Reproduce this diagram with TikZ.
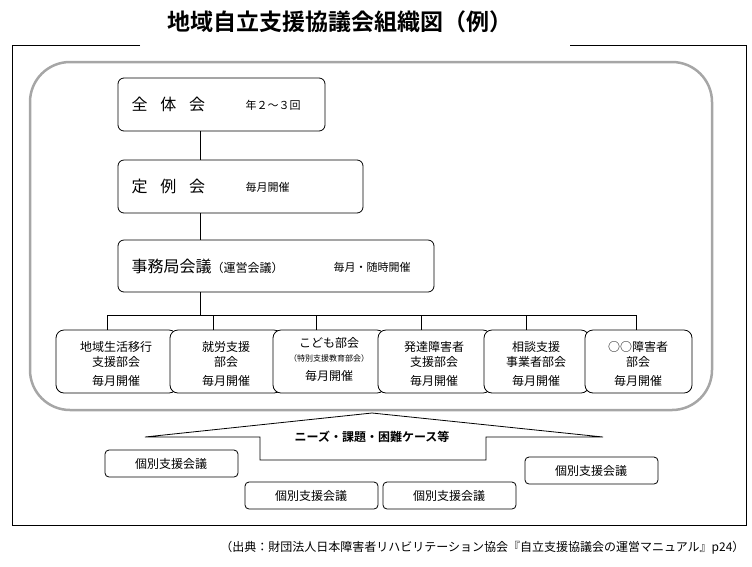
\documentclass[tikz,border=0pt]{standalone}
\usepackage{fontspec}
\setmainfont{Noto Sans CJK JP}
\newfontfamily\jpbold{Noto Sans CJK JP Bold}
\begin{document}
\begin{tikzpicture}[x=1pt,y=-1pt,
  bx/.style={draw,rounded corners=6pt,line width=0.8pt},
  sub/.style={draw,rounded corners=8pt,line width=0.8pt,fill=white},
  lbl/.style={font=\fontsize{12}{15}\selectfont},
  big/.style={font=\fontsize{16}{18}\selectfont,anchor=west},
  note/.style={font=\fontsize{11}{13}\selectfont,anchor=west}]
\useasboundingbox (0,0) rectangle (752,566);
\node (title) at (340,22) {\jpbold\fontsize{23}{26}\selectfont 地域自立支援協議会組織図（例）};
\draw[line width=0.8pt] (140,45) -- (12,45) -- (12,525) -- (746,525) -- (746,45) -- (570,45);
\draw[gray!70,line width=2.5pt,rounded corners=40pt] (30,62) rectangle (712,410);
% main boxes
\draw[bx] (118,78) rectangle (325,131);
\node[big] (a) at (128,104) {全\hspace{0.8em}体\hspace{0.8em}会};
\node[note] at (242,105) {年２～３回};
\draw[bx] (118,160) rectangle (363,213);
\node[big] (b) at (128,186) {定\hspace{0.8em}例\hspace{0.8em}会};
\node[note] at (242,187) {毎月開催};
\draw[bx] (118,240) rectangle (434,292);
\node[big] (c) at (128,266) {事務局会議\fontsize{12}{14}\selectfont（運営会議）};
\node[note] at (330,267) {毎月・随時開催};
\coordinate (t1) at (200,131); \coordinate (t2) at (200,160);
\coordinate (t3) at (200,213); \coordinate (t4) at (200,240);
\coordinate (t5) at (200,292); \coordinate (t6) at (200,315);
\draw (t1) -- (t2); \draw (t3) -- (t4); \draw (t5) -- (t6);
\coordinate (hl) at (107,315); \coordinate (hr) at (636,315);
\draw (hl) -- (hr);
\foreach \x in {107,213,316,421,526,636} \draw (\x,315) -- (\x,332);
% sub boxes
\foreach \l/\r/\n in {56/177/s1,170/282/s2,273/385/s3,378/491/s4,484/589/s5,585/692/s6}
  \draw[sub] (\l,330) rectangle (\r,393);
\node[lbl,align=center] at (116,354) {地域生活移行\\支援部会};
\node[lbl] at (116,381) {毎月開催};
\node[lbl,align=center] at (226,354) {就労支援\\部会};
\node[lbl] at (226,381) {毎月開催};
\node[lbl] at (329,343) {こども部会};
\node[font=\fontsize{8}{9}\selectfont] at (329,358) {（特別支援教育部会）};
\node[lbl] at (329,376) {毎月開催};
\node[lbl,align=center] at (434,354) {発達障害者\\支援部会};
\node[lbl] at (434,381) {毎月開催};
\node[lbl,align=center] at (536,354) {相談支援\\事業者部会};
\node[lbl] at (536,381) {毎月開催};
\node[lbl,align=center] at (638,354) {○○障害者\\部会};
\node[lbl] at (638,381) {毎月開催};
% chevron
\draw[line width=0.8pt] (145,437) -- (372,413) -- (603,437) -- (486,437) -- (486,460) -- (260,460) -- (260,437) -- cycle;
\node[font=\jpbold\fontsize{12}{14}\selectfont] (n) at (372,437) {ニーズ・課題・困難ケース等};
\foreach \l/\t/\n in {105/450/k1,245/482/k2,383/482/k3,525/457/k4}{
  \draw[bx,rounded corners=4pt] (\l,\t) rectangle (\l+133,\t+27);
  \node[lbl] (\n) at (\l+66,\t+14) {個別支援会議};}
\node[font=\fontsize{12}{14}\selectfont,anchor=east] (src) at (748,548) {（出典：財団法人日本障害者リハビリテーション協会『自立支援協議会の運営マニュアル』p24）};
\end{tikzpicture}
\end{document}
